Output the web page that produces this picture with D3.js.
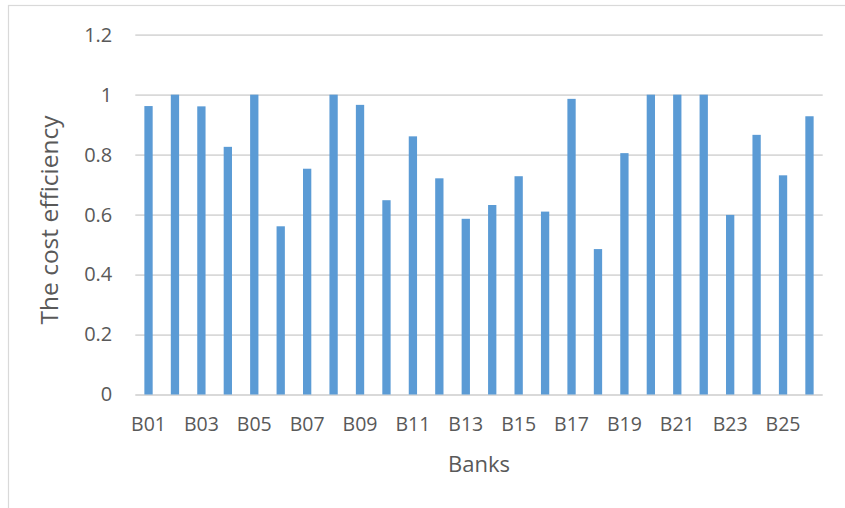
<!DOCTYPE html>
<html>
<head>
<meta charset="utf-8">
<script src="https://cdn.jsdelivr.net/npm/d3@7"></script>
<style>
  html, body { margin: 0; padding: 0; background: #fff; }
  svg { display: block; font-family: "Open Sans", sans-serif; }
</style>
</head>
<body>
<svg id="chart" width="845" height="508"></svg>
<script>
// Cost efficiency score for each bank
const banks = ["B01","B02","B03","B04","B05","B06","B07","B08","B09","B10","B11","B12","B13",
               "B14","B15","B16","B17","B18","B19","B20","B21","B22","B23","B24","B25","B26"];
const efficiency = [0.962, 1.0, 0.961, 0.826, 1.0, 0.561, 0.753, 1.0, 0.966, 0.648, 0.861, 0.721, 0.586,
                    0.632, 0.728, 0.610, 0.986, 0.485, 0.805, 1.0, 1.0, 1.0, 0.599, 0.866, 0.731, 0.928];
const yTicks = [0, 0.2, 0.4, 0.6, 0.8, 1, 1.2];
const xTickLabels = banks.filter((d, i) => i % 2 === 0);

const svg = d3.select("#chart");
const plot = { left: 135.3, right: 822.7, top: 34.7, bottom: 394.5 };

// chart frame
svg.append("rect")
  .attr("x", 8.5).attr("y", 5.5)
  .attr("width", 900).attr("height", 600)
  .attr("fill", "#fff").attr("stroke", "#d9d9d9").attr("stroke-width", 1.2);

const x = d3.scaleBand().domain(banks).range([plot.left, plot.right])
  .paddingInner(0.686).paddingOuter(0.343);
const y = d3.scaleLinear().domain([0, 1.2]).range([plot.bottom, plot.top]);

// horizontal gridlines + y labels
const yAxis = d3.axisLeft(y).tickValues(yTicks).tickFormat(d3.format("~g"))
  .tickSize(-(plot.right - plot.left)).tickPadding(23);
const gy = svg.append("g").attr("transform", `translate(${plot.left},0)`).call(yAxis);
gy.select(".domain").remove();
gy.selectAll(".tick line").attr("stroke", "#d9d9d9").attr("stroke-width", 1.8);
gy.selectAll(".tick text").attr("fill", "#595959").attr("font-size", "20px")
  .attr("font-family", "Open Sans, sans-serif");

// bars
svg.append("g").selectAll("rect").data(banks).join("rect")
  .attr("x", d => x(d))
  .attr("width", x.bandwidth())
  .attr("y", (d, i) => y(efficiency[i]))
  .attr("height", (d, i) => y(0) - y(efficiency[i]))
  .attr("fill", "#5b9bd5");

// x axis labels (every second bank)
const xAxis = d3.axisBottom(x).tickValues(xTickLabels).tickSize(0).tickPadding(23);
const gx = svg.append("g").attr("transform", `translate(0,${plot.bottom})`).call(xAxis);
gx.select(".domain").remove();
gx.selectAll(".tick text").attr("fill", "#595959").attr("font-size", "19.5px")
  .attr("font-family", "Open Sans, sans-serif");

// axis titles
svg.append("text")
  .attr("x", (plot.left + plot.right) / 2).attr("y", 472.3)
  .attr("text-anchor", "middle")
  .attr("fill", "#595959").attr("font-size", "22px")
  .text("Banks");

svg.append("text")
  .attr("transform", "translate(58,220) rotate(-90)")
  .attr("text-anchor", "middle")
  .attr("fill", "#595959").attr("font-size", "24.5px")
  .text("The cost efficiency");
</script>
</body>
</html>
